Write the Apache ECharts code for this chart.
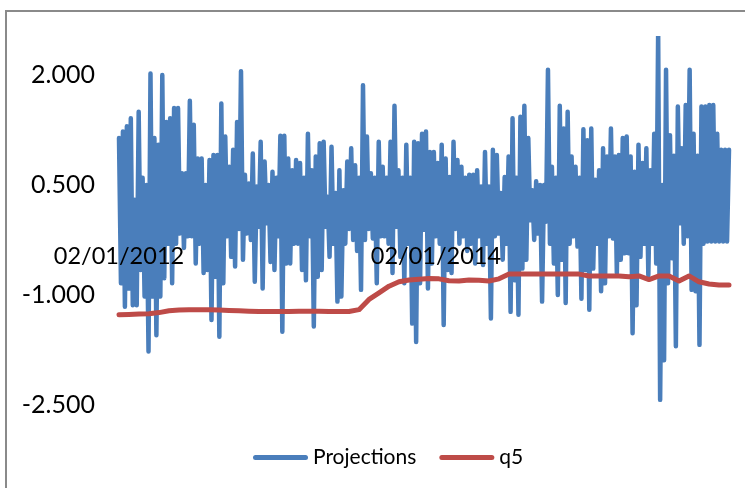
<!doctype html>
<html>
    <head>
        <meta charset="utf-8">
        <title>Projections vs q5</title>
        <script src="https://cdn.jsdelivr.net/npm/echarts@6/dist/echarts.min.js"></script>
        <style>
            html, body { margin: 0; padding: 0; background: #fff; }
            #main { width: 745px; height: 488px; }
        </style>
    </head>
    <body>
        <div id="main"></div>
        <script>
            // x axis is counted in days from 02/01/2012
            var spanDays = 1407;
            var dateTicks = [0, 731];
            var dateLabels = ['02/01/2012', '02/01/2014'];
            var yTicks = [-2.5, -1, 0.5, 2];

            // Projections in six stretches (left to right)
            var blueA = [1.14, -0.84, 1.23, -1.16, 1.30, -0.91, 1.41, -1.14, 0.30, -1.14,
                1.50, -0.66, 0.6, -1.02, 0.5, -1.77, 2.02, -1.02, 1.14, -1.55,
                1.05, -1.02, 2.0, -0.77, 1.36, -0.3, 1.41, -0.84, 1.55, -0.30,
                1.55, -0.16, 0.66, -0.36, 0.66, -0.2, 1.65, -0.2, 1.32, -0.57,
                0.86, -0.3, 0.86, -0.70, 0.5, -0.66, 0.84, -1.34, 0.91, -0.75,
                0.91, -1.57];
            var blueB = [1.61, -0.84, 1.16, -0.20, 0.75, -0.48, 0.98, -0.61, 1.36, -0.1,
                2.05, -0.52, 0.64, -0.16, 0.52, -0.25, 0.93, -0.82, 0.48, -0.07,
                1.09, -0.91, 0.82, -0.02, 0.50, -0.55, 0.68, -0.66, 0.6, -0.2,
                1.17, -1.50, 1.17, -0.57, 0.86, -0.57, 0.7, -0.3, 0.84, -0.30,
                0.80, -0.66, 0.6, -0.80, 1.20, -0.2, 0.7, -1.43, 0.89, -0.75,
                1.07];
            var blueC = [-0.66, 1.09, -0.07, 0.34, -0.48, 1.02, -0.3, 0.39, -1.09, 0.70,
                -1.02, 0.43, -0.30, 0.82, -0.1, 1.0, -0.25, 0.77, -0.4, 0.6,
                -0.93, 1.86, -0.25, 1.16, -0.1, 0.66, -0.23, 0.6, -0.84, 1.09,
                -0.2, 0.75, -0.20, 0.6, -0.3, 1.09, -0.70, 1.58, -0.07, 0.70,
                -0.48, 0.6, -0.84, 1.05, -0.3, 0.6, -1.39, 1.09, -1.64, 1.07,
                -0.84, 1.20];
            var blueD = [-0.11, 1.23, -0.91, 0.95, -0.57, 0.95, -0.2, 0.80, -0.3, 1.05,
                -1.41, 0.86, -0.66, 0.61, -0.70, 1.09, -0.1, 0.84, -0.30, 0.75,
                -0.20, 0.6, -0.4, 0.64, -0.30, 0.64, -0.57, 0.70, -0.2, 0.48,
                -0.59, 0.95, -0.3, 0.48, -1.32, 0.98, -0.20, 0.91, -0.16, 0.39,
                -0.52, 0.61, -0.3, 0.89, -1.23, 1.41, -0.80, 0.6, -1.27, 1.43,
                -0.64, 1.58];
            var blueE = [-0.52, 1.14, 0.02, 0.43, -0.25, 0.55, -0.16, 0.50, -1.09, 0.5,
                0.0, 2.07, -0.3, 0.75, -0.57, 0.6, -1.0, 1.58, -0.52, 1.27,
                -1.11, 1.50, -0.30, 0.89, -0.2, 0.75, -0.34, 0.6, -1.05, 1.26,
                -0.66, 1.11, -1.20, 1.27, -0.64, 0.57, -0.3, 0.7, -0.95, 1.0,
                -0.84, 0.89, -0.2, 1.27, -0.23, 0.89, -0.70, 0.91, -0.52, 1.14,
                -0.43];
            var blueF = [1.16, -0.43, 0.89, -1.52, 0.68, -1.14, 1.05, -0.48, 0.8, -0.3,
                1.0, -0.73, 0.7, -0.3, 1.20, -0.57, 2.6, -2.43, 0.5, -1.89,
                2.07, -0.84, 1.18, -0.5, 0.9, -1.70, 1.57, -0.02, 1.0, -0.30,
                1.59, -0.2, 2.07, -0.93, 1.2, -0.95, 0.9, -1.68, 1.57, -0.30,
                1.57, -0.27, 1.59, -0.27, 1.59, -0.27, 1.2, -0.27, 0.98, -0.27,
                0.98, -0.27, 0.98];

            // q5, one reading every ~10 px of the plot
            var q5 = [-1.27, -1.265, -1.26, -1.255, -1.24, -1.215, -1.205, -1.2, -1.2, -1.2,
                -1.205, -1.21, -1.215, -1.22, -1.225, -1.225, -1.225, -1.225, -1.22, -1.22,
                -1.22, -1.225, -1.225, -1.225, -1.2, -1.06, -0.97, -0.88, -0.82, -0.795,
                -0.785, -0.775, -0.78, -0.805, -0.81, -0.795, -0.80, -0.81, -0.78, -0.715,
                -0.715, -0.715, -0.715, -0.715, -0.715, -0.715, -0.715, -0.74, -0.74, -0.74,
                -0.74, -0.75, -0.74, -0.79, -0.74, -0.74, -0.81, -0.74, -0.82, -0.85,
                -0.865, -0.865];

            var projections = blueA.concat(blueB, blueC, blueD, blueE, blueF);

            function spread(values) {
                var step = spanDays / (values.length - 1);
                return values.map(function (v, i) { return [i * step, v]; });
            }

            var font = 'Lato, "Open Sans", sans-serif';
            var pill = 'path://M2.5,0L52.5,0A2.5,2.5,0,0,1,52.5,5L2.5,5A2.5,2.5,0,0,1,2.5,0Z';
            var chart = echarts.init(document.getElementById('main'));

            chart.setOption({
                animation: false,
                graphic: [{
                    type: 'rect',
                    shape: { x: 6, y: 11, width: 800, height: 600 },
                    style: { fill: 'none', stroke: '#8a8a8a', lineWidth: 2 },
                    silent: true
                }],
                grid: { left: 119, right: 16, top: 38.33, bottom: 83 },
                legend: {
                    bottom: 15,
                    left: 248,
                    icon: pill,
                    itemWidth: 55,
                    itemHeight: 5,
                    itemGap: 23,
                    textStyle: { fontFamily: font, fontSize: 21, color: '#000' },
                    data: ['Projections', 'q5']
                },
                xAxis: {
                    type: 'value',
                    min: 0,
                    max: spanDays,
                    interval: 731,
                    z: 5,
                    position: 'bottom',
                    offset: -183.3,
                    axisLine: { show: false, onZero: false },
                    axisTick: { show: false },
                    splitLine: { show: false },
                    axisLabel: {
                        margin: 23,
                        fontFamily: font,
                        fontSize: 23.5,
                        color: '#000',
                        formatter: function (v) {
                            var k = dateTicks.indexOf(v);
                            return k >= 0 ? dateLabels[k] : '';
                        }
                    }
                },
                yAxis: {
                    type: 'value',
                    min: -2.5,
                    max: 2.5,
                    axisLine: { show: false },
                    axisTick: { show: false },
                    splitLine: { show: false },
                    axisLabel: {
                        margin: 24,
                        fontFamily: font,
                        fontSize: 25,
                        color: '#000',
                        customValues: yTicks,
                        formatter: function (v) { return v.toFixed(3); }
                    }
                },
                series: [{
                    name: 'Projections',
                    type: 'line',
                    symbol: 'none',
                    data: spread(projections),
                    lineStyle: { color: '#4a7ebb', width: 4.5, cap: 'round', join: 'round' },
                    itemStyle: { color: '#4a7ebb' }
                }, {
                    name: 'q5',
                    type: 'line',
                    symbol: 'none',
                    data: spread(q5),
                    lineStyle: { color: '#be4b48', width: 5, cap: 'round', join: 'round' },
                    itemStyle: { color: '#be4b48' }
                }]
            });
        </script>
    </body>
</html>
